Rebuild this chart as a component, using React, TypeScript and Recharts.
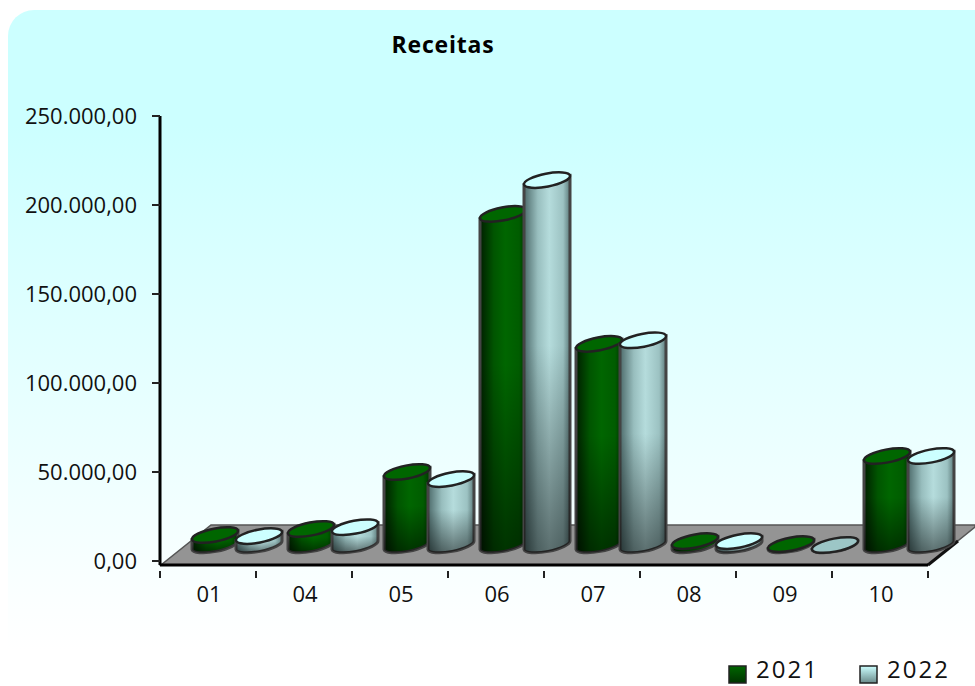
import React from 'react'
import { BarChart, Bar, XAxis, YAxis, Legend } from 'recharts'

const categories = ['01', '04', '05', '06', '07', '08', '09', '10']
const receitas2021 = [5600, 9000, 41000, 186000, 113000, 2200, 500, 50000]
const receitas2022 = [5000, 10000, 37000, 205000, 115000, 2200, 0, 50000]
const yTicks = [0, 50000, 100000, 150000, 200000, 250000]

const data = categories.map((mes, i) => ({
  mes,
  a2021: receitas2021[i],
  a2022: receitas2022[i],
}))

const WIDTH = 975
const HEIGHT = 686
const FONT = '"Open Sans", sans-serif'

// deslocamento do "3D": a barra fica recuada em relacao ao eixo
const SHIFT_X = 29
const SHIFT_Y = -16
const TILT = 11

const formatBRL = (v: number) => {
  const mil = Math.floor(v / 1000)
  return v === 0 ? '0,00' : `${mil}.000,00`
}

const Cylinder = (props: any) => {
  const { x, y, width, height, value, bodyId, topFill, flatFill } = props
  const rad = (TILT * Math.PI) / 180
  const cx = x + width / 2 + SHIFT_X
  const rx = width / 2 / Math.cos(rad)
  const ry = 6.5
  const topY = y + SHIFT_Y
  const baseY = y + height + SHIFT_Y
  const dx = rx * Math.cos(rad)
  const dy = rx * Math.sin(rad)
  const body = `M${cx - dx} ${topY + dy} L${cx - dx} ${baseY + dy} A${rx} ${ry} ${-TILT} 0 0 ${cx + dx} ${baseY - dy} L${cx + dx} ${topY - dy} Z`
  return (
    <g>
      <path d={body} fill={`url(#${bodyId})`} stroke="#444" strokeWidth={3} />
      <path d={body} fill="url(#shadeDown)" />
      <ellipse
        cx={cx}
        cy={topY}
        rx={rx}
        ry={ry}
        fill={value === 0 ? flatFill : topFill}
        stroke="#222"
        strokeWidth={2.5}
        transform={`rotate(${-TILT} ${cx} ${topY})`}
      />
    </g>
  )
}

const XTick = (props: any) => {
  const { x, y, payload, index, visibleTicksCount } = props
  const band = 96
  const last = index === visibleTicksCount - 1
  return (
    <g>
      <line x1={x - band / 2} x2={x - band / 2} y1={y - 2} y2={y + 5} stroke="#222" strokeWidth={2} />
      {last && <line x1={x + band / 2} x2={x + band / 2} y1={y - 2} y2={y + 5} stroke="#222" strokeWidth={2} />}
      <text x={x + 1} y={y + 29} textAnchor="middle" fontFamily={FONT} fontSize={22} fill="#111">
        {payload.value}
      </text>
    </g>
  )
}

const legendFills = ['url(#swatch2021)', 'url(#swatch2022)']

const LegendContent = (props: any) => (
  <div style={{ display: 'flex', fontFamily: FONT, fontSize: 24, lineHeight: '26px', color: '#111', letterSpacing: 2 }}>
    {props.payload.map((entry: any, i: number) => (
      <div key={entry.value} style={{ display: 'flex', alignItems: 'center', flex: 'none', width: i === 0 ? 131 : 116 }}>
        <svg width={20} height={20} style={{ marginRight: 8, position: 'relative', top: 6 }}>
          <rect x={1} y={1} width={17} height={17} fill={legendFills[i]} stroke="#222" strokeWidth={1.5} />
        </svg>
        {entry.value}
      </div>
    ))}
  </div>
)

export default function App() {
  return (
    <div style={{ position: 'absolute', left: 0, top: 0, width: WIDTH, height: HEIGHT, background: '#fff', overflow: 'hidden' }}>
      <div
        style={{
          position: 'absolute',
          left: 8,
          top: 10,
          width: WIDTH,
          height: 640,
          borderTopLeftRadius: 26,
          background: 'linear-gradient(#ccffff 0%, #ccffff 18%, #fbffff 92%, #ffffff 100%)',
        }}
      />
      <div style={{ position: 'absolute', left: 0, top: 0 }}>
        <BarChart
          width={WIDTH}
          height={HEIGHT}
          data={data}
          margin={{ top: 116, right: 47, bottom: 91, left: 0 }}
          barSize={46}
          barGap={-2}
          style={{ fontFamily: FONT }}
        >
          <defs>
            <linearGradient id="body2021" x1="0" x2="1" y1="0" y2="0">
              <stop offset="0" stopColor="#001f00" />
              <stop offset="0.3" stopColor="#005500" />
              <stop offset="0.55" stopColor="#006600" />
              <stop offset="0.85" stopColor="#005c00" />
              <stop offset="1" stopColor="#003300" />
            </linearGradient>
            <linearGradient id="body2022" x1="0" x2="1" y1="0" y2="0">
              <stop offset="0" stopColor="#4d6b6b" />
              <stop offset="0.3" stopColor="#98bebe" />
              <stop offset="0.55" stopColor="#b5dcdc" />
              <stop offset="0.85" stopColor="#9cc2c2" />
              <stop offset="1" stopColor="#5c7a7a" />
            </linearGradient>
            <linearGradient id="shadeDown" x1="0" x2="0" y1="0" y2="1">
              <stop offset="0.45" stopColor="#000" stopOpacity="0" />
              <stop offset="1" stopColor="#000" stopOpacity="0.5" />
            </linearGradient>
            <linearGradient id="swatch2021" x1="0" x2="0" y1="0" y2="1">
              <stop offset="0" stopColor="#006600" />
              <stop offset="1" stopColor="#003300" />
            </linearGradient>
            <linearGradient id="swatch2022" x1="0" x2="0" y1="0" y2="1">
              <stop offset="0" stopColor="#ccffff" />
              <stop offset="1" stopColor="#6a8a8a" />
            </linearGradient>
          </defs>

          {/* piso cinza do grafico */}
          <polygon points="161,565 928,565 975,527 975,525 211,525" fill="#949494" stroke="#555" strokeWidth={1.5} />
          <line x1={928} y1={565} x2={958} y2={541} stroke="#111" strokeWidth={3} />

          <text x={443} y={53} textAnchor="middle" fontFamily={FONT} fontWeight={700} fontSize={23} letterSpacing={0.8} fill="#000">
            Receitas
          </text>

          <XAxis
            dataKey="mes"
            interval={0}
            tick={<XTick />}
            tickLine={false}
            axisLine={{ stroke: '#000', strokeWidth: 3 }}
          />
          <YAxis
            width={160}
            domain={[0, 250000]}
            ticks={yTicks}
            interval={0}
            padding={{ bottom: 4 }}
            tickFormatter={formatBRL}
            tickSize={8}
            tickMargin={15}
            tick={{ fill: '#111', fontSize: 22, fontFamily: FONT }}
            tickLine={{ stroke: '#222', strokeWidth: 2 }}
            axisLine={{ stroke: '#000', strokeWidth: 3 }}
          />
          <Legend
            layout="horizontal"
            verticalAlign="middle"
            align="center"
            content={<LegendContent />}
            wrapperStyle={{ position: 'absolute', left: 728, top: 656, width: 247, bottom: 'auto' }}
          />
          <Bar
            dataKey="a2021"
            name="2021"
            fill="#006600"
            isAnimationActive={false}
            shape={<Cylinder bodyId="body2021" topFill="#006600" flatFill="#006600" />}
          />
          <Bar
            dataKey="a2022"
            name="2022"
            fill="#ccffff"
            isAnimationActive={false}
            shape={<Cylinder bodyId="body2022" topFill="#ccffff" flatFill="#9cc6c6" />}
          />
        </BarChart>
      </div>
    </div>
  )
}
